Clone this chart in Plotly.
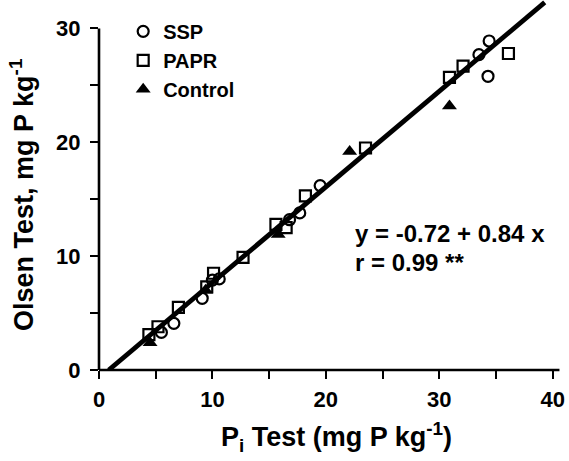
import plotly.graph_objects as go

# ---- data ----
ssp_x = [5.5, 6.6, 9.1, 10.0, 10.6, 16.8, 17.7, 19.5, 33.5, 34.4, 34.3]
ssp_y = [3.3, 4.1, 6.3, 7.9, 8.0, 13.2, 13.8, 16.2, 27.7, 28.9, 25.8]

papr_x = [4.4, 5.2, 7.0, 9.5, 10.1, 12.7, 15.6, 16.5, 18.2, 23.5, 30.9, 32.1, 36.1]
papr_y = [3.1, 3.8, 5.5, 7.3, 8.5, 9.9, 12.8, 12.5, 15.3, 19.5, 25.7, 26.7, 27.8]

ctrl_x = [4.5, 9.4, 15.8, 22.1, 30.9]
ctrl_y = [2.4, 7.0, 11.9, 19.2, 23.2]

intercept = -0.72
slope = 0.84
fit_x = [-intercept / slope, 39.3]
fit_y = [intercept + slope * v for v in fit_x]

x_ticks = [0, 10, 20, 30, 40]
y_ticks = [0, 10, 20, 30]

FONT = "Liberation Sans, Arial, Helvetica, sans-serif"

fig = go.Figure()
fig.add_trace(go.Scatter(x=fit_x, y=fit_y, mode="lines", showlegend=False,
                         line=dict(color="black", width=4.8)))
fig.add_trace(go.Scatter(x=ssp_x, y=ssp_y, mode="markers", name="SSP", legendgroup="a",
                         marker=dict(symbol="circle-open", size=11, color="black",
                                     line=dict(width=2.2, color="black")),
                         cliponaxis=False))
fig.add_trace(go.Scatter(x=papr_x, y=papr_y, mode="markers", name="PAPR", legendgroup="b",
                         marker=dict(symbol="square-open", size=11, color="black",
                                     line=dict(width=2.2, color="black")),
                         cliponaxis=False))
fig.add_trace(go.Scatter(x=ctrl_x, y=ctrl_y, mode="markers", name="Control", legendgroup="c",
                         marker=dict(symbol="triangle-up", size=13, color="black",
                                     line=dict(width=0)),
                         cliponaxis=False))

axis_common = dict(showgrid=False, zeroline=False, showline=False,
                   ticks="outside", ticklen=8, tickwidth=2, tickcolor="black",
                   minor=dict(dtick=5, ticks="outside", ticklen=8, tickwidth=2,
                              tickcolor="black"))

fig.update_xaxes(range=[0, 41], tickvals=x_ticks, ticklabelstandoff=2,
                 tickfont=dict(family=FONT, size=22, color="black", weight="bold"),
                 **axis_common)
fig.update_yaxes(range=[0, 32.5], tickvals=y_ticks, ticklabelstandoff=5,
                 tickfont=dict(family=FONT, size=22, color="black", weight="bold"),
                 **axis_common)

# axis lines (x axis to just past 40, y axis up to 30)
fig.add_shape(type="line", xref="x", yref="paper", x0=0, x1=40.6, y0=0, y1=0,
              line=dict(color="black", width=2.6))
fig.add_shape(type="line", xref="paper", yref="y", x0=0, x1=0, y0=0, y1=30,
              line=dict(color="black", width=2.6))

fig.add_annotation(xref="paper", yref="paper", x=0.51, y=-0.182,
                   xanchor="center", yanchor="middle",
                   text="P<sub>i</sub> Test (mg P kg<sup>-1</sup>)", showarrow=False,
                   font=dict(family=FONT, size=27, color="black", weight="bold"))
fig.add_annotation(xref="paper", yref="paper", x=-0.1656, y=0.473, textangle=-90,
                   xanchor="center", yanchor="middle",
                   text="Olsen Test, mg P kg<sup>-1</sup>", showarrow=False,
                   font=dict(family=FONT, size=27, color="black", weight="bold"))
fig.add_annotation(xref="x", yref="y", x=22.4, y=12.0, xanchor="left", yanchor="middle",
                   text="y = -0.72 + 0.84 x", showarrow=False,
                   font=dict(family=FONT, size=24, color="black", weight="bold"))
fig.add_annotation(xref="x", yref="y", x=22.4, y=9.45, xanchor="left", yanchor="middle",
                   text="r = 0.99 **", showarrow=False,
                   font=dict(family=FONT, size=24, color="black", weight="bold"))

fig.update_layout(
    width=569, height=461,
    margin=dict(l=99, r=5, t=0, b=91),
    paper_bgcolor="white", plot_bgcolor="white",
    legend=dict(x=0.052, y=0.968, xanchor="left", yanchor="top",
                bgcolor="rgba(0,0,0,0)", traceorder="grouped", tracegroupgap=0,
                font=dict(family=FONT, size=20, color="black", weight="bold")),
)

fig.write_html("out.html", config={"displayModeBar": False},
               post_script="document.body.style.margin='0';")
